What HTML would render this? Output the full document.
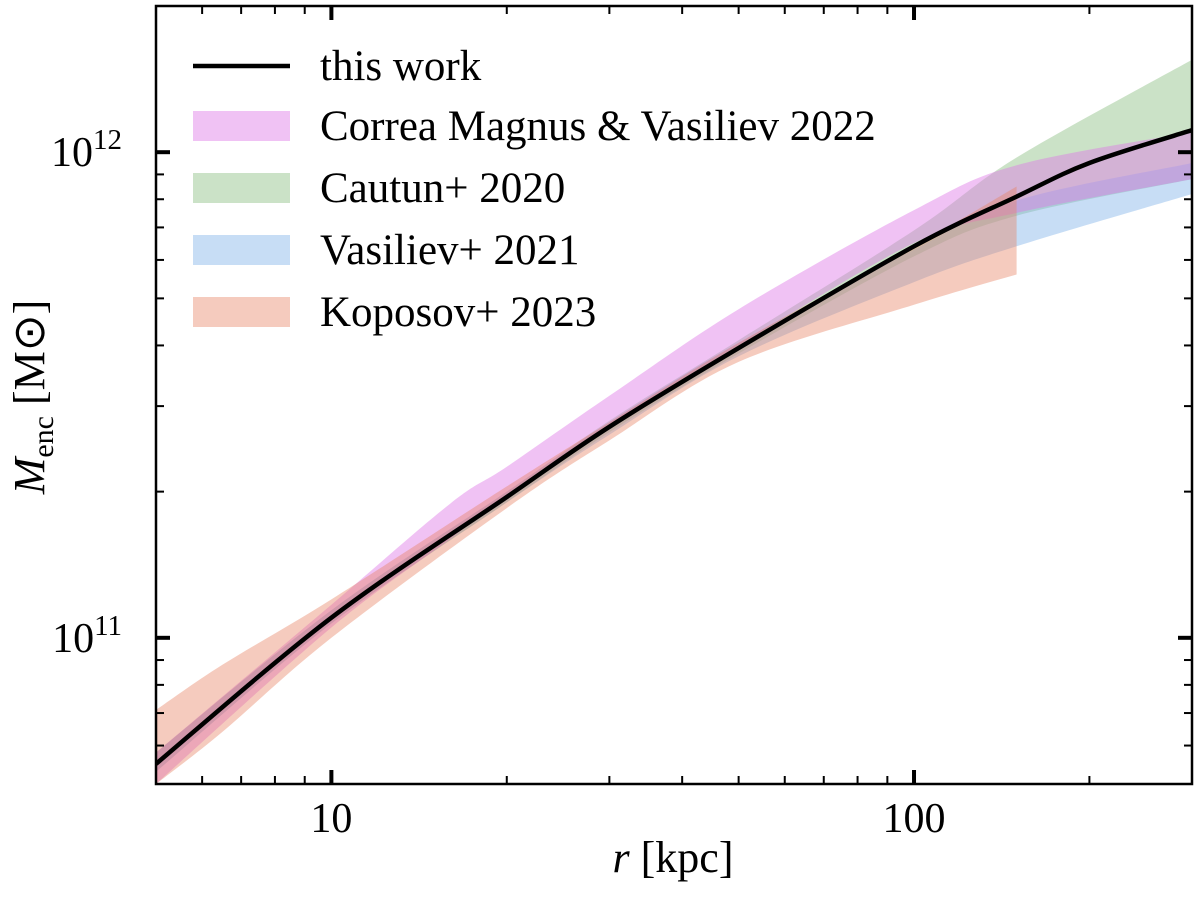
<!DOCTYPE html>
<html><head><meta charset="utf-8"><style>
html,body{margin:0;padding:0;background:#fff;}
svg{display:block;font-family:"Liberation Serif",serif;}
</style></head><body>
<svg id="chart" width="1200" height="910" viewBox="0 0 1200 910" xmlns="http://www.w3.org/2000/svg">
<g id="bands"></g>
<g id="line"></g>
<g id="axes"></g>
<g id="legend"></g>
<text x="673" y="872" font-size="44" text-anchor="middle"><tspan font-style="italic">r</tspan> [kpc]</text>
<text transform="translate(44,397) rotate(-90)" font-size="44" text-anchor="middle"><tspan font-style="italic">M</tspan><tspan font-size="30" dy="9">enc</tspan><tspan dy="-9"> [M</tspan><tspan>⊙</tspan>]</text>
</svg>
<script>
// data (mass in units of 1e11 Msun, r in kpc)
const lineR = [5, 10, 20, 30, 50, 100, 150, 200, 300];
const lineM = [0.55, 1.1, 1.95, 2.72, 3.95, 6.4, 8.1, 9.5, 11.1];

const cmR  = [5, 10, 16, 20, 30, 50, 100, 150, 300];
const cmLo = [0.5, 1.05, 1.6, 1.97, 2.75, 4.0, 6.5, 7.5, 8.8];
const cmHi = [0.58, 1.17, 1.89, 2.25, 3.15, 4.75, 7.6, 9.4, 11.0];

const caR  = [5, 10, 20, 30, 50, 100, 150, 300];
const caLo = [0.53, 1.07, 1.9, 2.65, 3.85, 6.1, 7.4, 8.8];
const caHi = [0.58, 1.14, 2.0, 2.8, 4.1, 6.9, 9.75, 15.5];

const vaR  = [5, 10, 20, 30, 50, 100, 150, 300];
const vaLo = [0.53, 1.07, 1.9, 2.62, 3.8, 5.4, 6.4, 8.2];
const vaHi = [0.58, 1.14, 2.0, 2.78, 4.05, 6.3, 7.95, 9.5];

const koR  = [5, 6.5, 10, 20, 30, 50, 100, 150];
const koLo = [0.5, 0.64, 1.0, 1.85, 2.55, 3.7, 4.85, 5.6];
const koHi = [0.71, 0.88, 1.2, 2.05, 2.78, 4.05, 6.4, 8.5];

const xTicksMajor = [10, 100];
const xTickLabels = ["10", "100"];
const xMinor = [6,7,8,9,20,30,40,50,60,70,80,90,200,300];
const yMajor = [1, 10];
const yMinor = [0.6,0.7,0.8,0.9,2,3,4,5,6,7,8,9,20];

const L=156, R=1192, T=6, B=784;
const xLo=Math.log10(5), xHi=Math.log10(300);
const yLo=Math.log10(0.5), yHi=Math.log10(20);
const X = r => L + (Math.log10(r)-xLo)/(xHi-xLo)*(R-L);
const Y = m => B - (Math.log10(m)-yLo)/(yHi-yLo)*(B-T);
const NS="http://www.w3.org/2000/svg";
function mk(tag, parent, attrs){const e=document.createElementNS(NS,tag);for(const k in attrs)e.setAttribute(k,attrs[k]);parent.appendChild(e);return e;}

function smooth(pts, start){
  let d = start ? 'M'+pts[0][0].toFixed(1)+','+pts[0][1].toFixed(1) : ' L'+pts[0][0].toFixed(1)+','+pts[0][1].toFixed(1);
  for(let i=0;i<pts.length-1;i++){
    const p0=pts[Math.max(i-1,0)], p1=pts[i], p2=pts[i+1], p3=pts[Math.min(i+2,pts.length-1)];
    const c1=[p1[0]+(p2[0]-p0[0])/6, p1[1]+(p2[1]-p0[1])/6];
    const c2=[p2[0]-(p3[0]-p1[0])/6, p2[1]-(p3[1]-p1[1])/6];
    d+=' C'+c1[0].toFixed(1)+','+c1[1].toFixed(1)+' '+c2[0].toFixed(1)+','+c2[1].toFixed(1)+' '+p2[0].toFixed(1)+','+p2[1].toFixed(1);
  }
  return d;
}

const bandsG=document.getElementById('bands');
const defs=mk('defs',document.getElementById('chart'),{});
const cp=mk('clipPath',defs,{id:'clip'});
mk('rect',cp,{x:L,y:T,width:R-L,height:B-T});
bandsG.setAttribute('clip-path','url(#clip)');
function band(rs,lo,hi,color,name){
  const top=rs.map((r,i)=>[X(r),Y(hi[i])]);
  const bot=rs.map((r,i)=>[X(r),Y(lo[i])]).reverse();
  const d=smooth(top,true)+smooth(bot,false)+'Z';
  const p=mk('path',bandsG,{d:d,fill:color});
  
  
}
const cCM='rgba(222,120,230,0.45)', cCA='rgba(140,190,130,0.45)', cVA='rgba(130,180,232,0.45)', cKO='rgba(232,130,100,0.42)';
band(caR,caLo,caHi,cCA,'cautun-2020-band');
band(vaR,vaLo,vaHi,cVA,'vasiliev-2021-band');
band(cmR,cmLo,cmHi,cCM,'correa-magnus-2022-band');
band(koR,koLo,koHi,cKO,'koposov-2023-band');

const lineG=document.getElementById('line');
lineG.setAttribute('clip-path','url(#clip)');
const lp=mk('path',lineG,{d:smooth(lineR.map((r,i)=>[X(r),Y(lineM[i])]),true),fill:'none',stroke:'#000','stroke-width':4.5,'stroke-linejoin':'round'});



const ax=document.getElementById('axes');
const fr=mk('rect',ax,{x:L,y:T,width:R-L,height:B-T,fill:'none',stroke:'#000','stroke-width':2.5});


xTicksMajor.forEach((t,i)=>{
  const x=X(t);
  mk('line',ax,{x1:x,x2:x,y1:B,y2:B-14,stroke:'#000','stroke-width':4});
  mk('line',ax,{x1:x,x2:x,y1:T,y2:T+14,stroke:'#000','stroke-width':4});
  const tx=mk('text',ax,{x:x,y:B+48,'font-size':42,'text-anchor':'middle'});
  tx.textContent=xTickLabels[i];
  
  
});
xMinor.forEach(t=>{const x=X(t);
  mk('line',ax,{x1:x,x2:x,y1:B,y2:B-8,stroke:'#000','stroke-width':2});
  mk('line',ax,{x1:x,x2:x,y1:T,y2:T+8,stroke:'#000','stroke-width':2});});
yMajor.forEach(m=>{const y=Y(m);
  mk('line',ax,{x1:L,x2:L+14,y1:y,y2:y,stroke:'#000','stroke-width':4});
  mk('line',ax,{x1:R,x2:R-14,y1:y,y2:y,stroke:'#000','stroke-width':4});
  const tx=mk('text',ax,{x:122,y:y+14,'font-size':42,'text-anchor':'end'});
  tx.innerHTML='10<tspan font-size="29" dy="-17">'+(m===1?'11':'12')+'</tspan>';
  
  
});
yMinor.forEach(m=>{const y=Y(m);
  mk('line',ax,{x1:L,x2:L+8,y1:y,y2:y,stroke:'#000','stroke-width':2});
  mk('line',ax,{x1:R,x2:R-8,y1:y,y2:y,stroke:'#000','stroke-width':2});});

const lg=document.getElementById('legend');
const entries=[['this work',null,66],['Correa Magnus & Vasiliev 2022',cCM,126],['Cautun+ 2020',cCA,188],['Vasiliev+ 2021',cVA,250],['Koposov+ 2023',cKO,312]];
entries.forEach(e=>{
  const g=mk('g',lg,{});
  
  
  if(e[1]) mk('rect',g,{x:193,y:e[2]-15,width:97,height:30,fill:e[1]});
  else mk('line',g,{x1:193,x2:290,y1:e[2],y2:e[2],stroke:'#000','stroke-width':4.5});
  const t=mk('text',g,{x:320,y:e[2]+14,'font-size':43});
  t.textContent=e[0];
});
</script>
</body></html>
